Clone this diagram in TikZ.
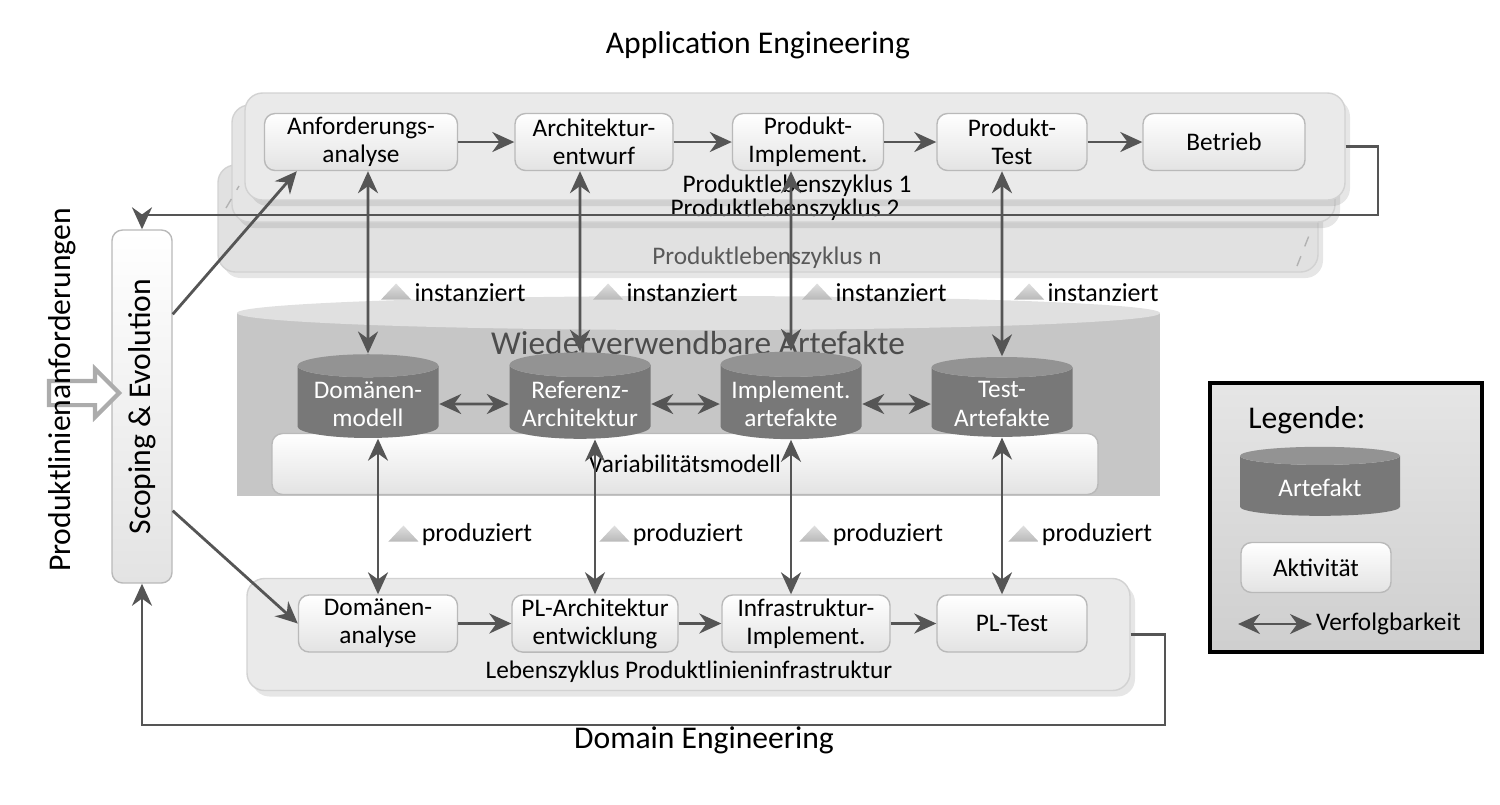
\documentclass[tikz,border=0pt]{standalone}
\usepackage{fontspec}
\setmainfont{Carlito}
\usetikzlibrary{arrows.meta,positioning,shapes.geometric,shapes.arrows,shadows}
\definecolor{ink}{RGB}{85,85,85}
\definecolor{pane}{RGB}{234,234,234}
\definecolor{slate}{RGB}{120,120,120}
\definecolor{fog}{RGB}{198,198,198}
\tikzset{
  >={Stealth[length=2.2mm,width=2mm]},
  activity/.style={draw=gray!55,top color=white,bottom color=gray!22,rounded corners=3pt,
    minimum height=5.7mm,minimum width=16mm,align=center,inner sep=1pt,
    font=\fontsize{7.2}{8}\selectfont},
  artefact/.style={cylinder,shape border rotate=90,aspect=0.2,cylinder uses custom fill,
    cylinder body fill=slate,cylinder end fill=slate!80!white,minimum width=14.1mm,
    minimum height=7.8mm,text=white,align=center,inner sep=1pt,
    font=\fontsize{7.2}{8}\selectfont},
  panel/.style={draw=gray!35,fill=#1,rounded corners=5pt,
    drop shadow={opacity=0.2,shadow xshift=0.5mm,shadow yshift=-0.6mm}},
  panel/.default=pane,
  flow/.style={->,thick,draw=ink},
  trace/.style={<->,thick,draw=ink},
  small/.style={font=\fontsize{7.2}{8}\selectfont,inner sep=1pt},
  tag/.style={font=\fontsize{7.4}{8}\selectfont,inner sep=1pt},
  tagmark/.style={isosceles triangle,shape border rotate=90,isosceles triangle stretches,
    top color=gray!25,bottom color=gray!55,inner sep=0pt,minimum width=3mm,minimum height=1.6mm},
  heading/.style={font=\fontsize{9}{10}\selectfont},
}
\begin{document}
\begin{tikzpicture}
  \useasboundingbox (0,0) rectangle (15,-8.04);
  % application engineering
  \node[heading] (app) at (7.58,-0.45) {Application Engineering};
  \node[panel=pane!96!black,minimum width=110mm,minimum height=10.7mm] (pln) at (7.68,-2.185) {};
  \node[panel=pane!98!black,minimum width=110.3mm,minimum height=11.7mm] (pl2) at (7.835,-1.635) {};
  \node[panel,minimum width=110mm,minimum height=10.7mm] (pl1) at (7.95,-1.465) {};
  \draw[gray!60,dashed] (2.26,-2.08) -- (2.39,-1.86);
  \draw[gray!60,dashed] (12.97,-2.66) -- (13.12,-2.28);
  \node[small,text=gray!70!black] (plnlab) at (7.67,-2.58) {Produktlebenszyklus n};
  \node[small] (pl2lab) at (7.85,-2.10) {Produktlebenszyklus 2};
  \node[small] (pl1lab) at (7.97,-1.86) {Produktlebenszyklus 1};

  \node[activity,minimum width=19.3mm] (anf) at (3.61,-1.42) {Anforderungs-\\analyse};
  \node[activity,minimum width=15.8mm] (arch) at (5.94,-1.42) {Architektur-\\entwurf};
  \node[activity,minimum width=15.1mm] (impl) at (8.08,-1.42) {Produkt-\\Implement.};
  \node[activity,minimum width=15mm] (test) at (10.12,-1.42) {Produkt-\\Test};
  \node[activity,minimum width=16.2mm] (betr) at (12.24,-1.42) {Betrieb};
  \draw[flow] (anf) -- (arch);
  \draw[flow] (arch) -- (impl);
  \draw[flow] (impl) -- (test);
  \draw[flow] (test) -- (betr);

  % reusable artefacts
  \fill[fog] (2.37,-3.13) rectangle (11.60,-4.96);
  \fill[fog!55!white] (6.985,-3.13) ellipse (4.615 and 0.17);
  \node[font=\fontsize{9.5}{10}\selectfont,text=gray!60!black] (reuse) at (6.98,-3.43) {Wiederverwendbare Artefakte};
  \node[activity,minimum width=82.6mm,minimum height=6.1mm] (varm) at (6.85,-4.64) {Variabilitätsmodell};
  \node[artefact] (dm) at (3.68,-4.04) {Domänen-\\modell};
  \node[artefact] (ra) at (5.80,-4.04) {Referenz-\\Architektur};
  \node[artefact] (ia) at (7.91,-4.04) {Implement.\\artefakte};
  \node[artefact] (ta) at (10.02,-4.04) {Test-\\Artefakte};
  \draw[trace] (dm) -- (ra);
  \draw[trace] (ra) -- (ia);
  \draw[trace] (ia) -- (ta);

  % domain engineering
  \node[panel,minimum width=88.3mm,minimum height=11.2mm] (dpl) at (6.885,-6.345) {};
  \node[small] (dpllab) at (6.89,-6.72) {Lebenszyklus Produktlinieninfrastruktur};
  \node[activity,minimum width=15.9mm] (doman) at (3.78,-6.235) {Domänen-\\analyse};
  \node[activity,minimum width=16.6mm] (plarch) at (5.95,-6.235) {PL-Architektur\\entwicklung};
  \node[activity,minimum width=16.8mm] (infra) at (8.06,-6.235) {Infrastruktur-\\Implement.};
  \node[activity,minimum width=15mm] (pltest) at (10.12,-6.235) {PL-Test};
  \draw[flow] (doman) -- (plarch);
  \draw[flow] (plarch) -- (infra);
  \draw[flow] (infra) -- (pltest);
  \node[heading] (dom) at (7.04,-7.40) {Domain Engineering};

  \draw[trace] (anf.south -| dm) -- (dm.north);
  \draw[trace] (arch.south -| ra) -- (ra.north);
  \draw[trace] (impl.south -| ia) -- (ia.north);
  \draw[trace] (test.south -| ta) -- (ta.north);
  \draw[trace] (dm.south -| doman) -- (doman.north);
  \draw[trace] (ra.south -| plarch) -- (plarch.north);
  \draw[trace] (ia.south) -- (ia.south |- infra.north);
  \draw[trace] (ta.south) -- (ta.south |- pltest.north);

  \foreach \x [count=\i] in {4.70,6.82,8.91,11.03}{
    \node[tag] (inst\i) at (\x,-2.93) {instanziert};
    \node[tagmark,left=0.4mm of inst\i] (instm\i) {};
  }
  \foreach \x [count=\i] in {4.77,6.88,8.88,10.97}{
    \node[tag] (prod\i) at (\x,-5.35) {produziert};
    \node[tagmark,left=0.4mm of prod\i] (prodm\i) {};
  }

  % scoping
  \node[activity,minimum width=6mm,minimum height=35.3mm,font=\fontsize{9}{10}\selectfont] (scope) at (1.42,-4.065) {\rotatebox{90}{Scoping \& Evolution}};
  \node[single arrow,draw=gray!65,fill=white,line width=1.2pt,inner sep=1mm,
    single arrow head extend=1.2mm,minimum height=7mm] (reqin) at (0.78,-3.93) {};
  \node[heading,rotate=90] (plreq) at (0.62,-3.90) {Produktlinienanforderungen};
  \draw[flow] ([yshift=-8.5mm]scope.north east) -- ([xshift=3.3mm]anf.south west);
  \draw[flow] ([yshift=7.3mm]scope.south east) -- (doman.west);
  \coordinate (apptop) at (13.78,-2.15);
  \coordinate (dombot) at (11.65,-7.25);
  \draw[flow] (pl1.east) -| (apptop) -| (scope.north);
  \draw[flow] (dpl.east) -| (dombot) -| (scope.south);

  % legend
  \node[draw=black,line width=1pt,top color=gray!20,bottom color=gray!38,
    minimum width=27.2mm,minimum height=26.9mm] (leg) at (13.46,-5.175) {};
  \node[heading,anchor=west] (legt) at (12.36,-4.20) {Legende:};
  \node[artefact,minimum width=16mm,minimum height=6.9mm] (legart) at (13.20,-4.875) {Artefakt};
  \node[activity,minimum width=15mm,minimum height=5mm] (legact) at (13.16,-5.675) {Aktivität};
  \node[small,anchor=west] (legtr) at (13.12,-6.24) {Verfolgbarkeit};
  \coordinate (legtr0) at (12.38,-6.24);
  \draw[trace] (legtr0) -- (legtr.west);
\end{tikzpicture}
\end{document}
